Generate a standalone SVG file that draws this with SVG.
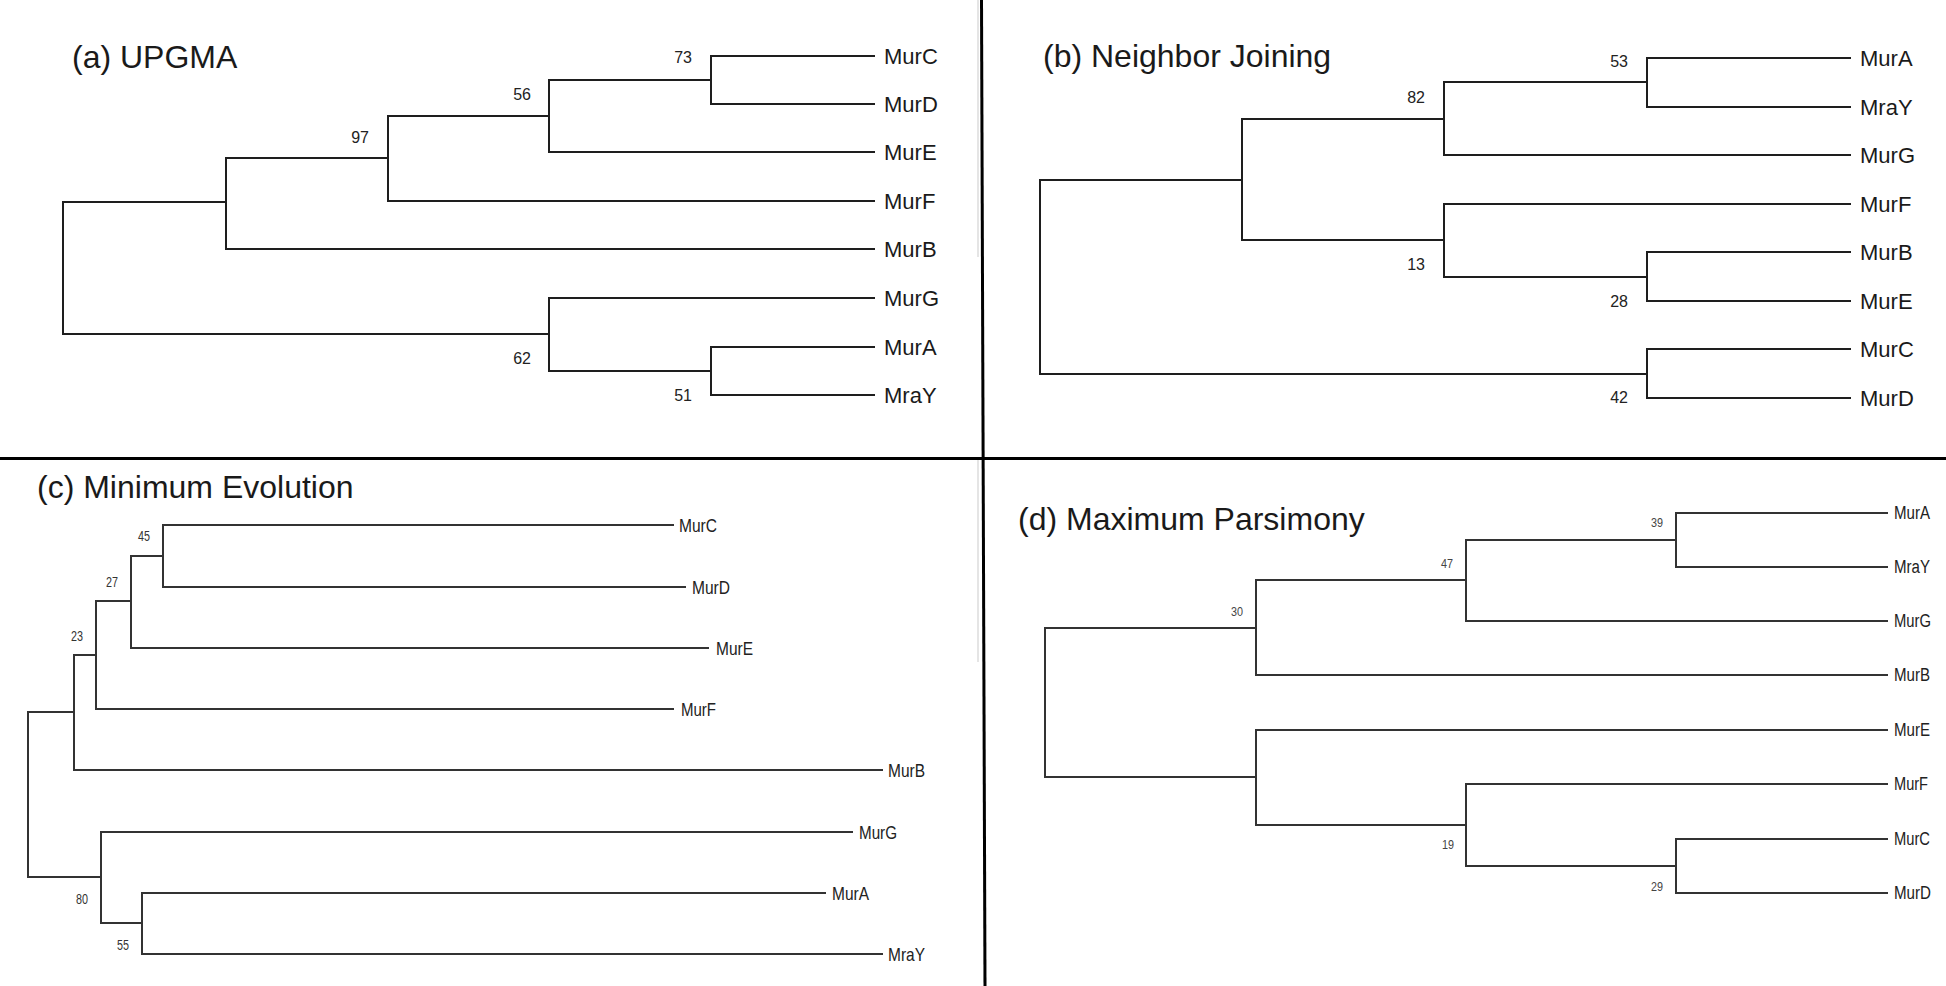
<svg xmlns="http://www.w3.org/2000/svg" width="1946" height="986" viewBox="0 0 1946 986">
<style>
.br{fill:none;stroke:#1e1e1e;stroke-width:2;stroke-linecap:square}
.brc{fill:none;stroke:#333;stroke-width:2;stroke-linecap:square}
.div{stroke:#000;stroke-width:3}
.faint{stroke:#ddd;stroke-width:1.5}
.t{font-family:"Liberation Sans",Arial,sans-serif;font-size:32px;fill:#1a1a1a}
.lf{font-family:"Liberation Sans",Arial,sans-serif;font-size:22px;fill:#1a1a1a}
.bs{font-family:"Liberation Sans",Arial,sans-serif;font-size:16px;fill:#222;text-anchor:end}
.lfc{font-family:"Liberation Sans",Arial,sans-serif;font-size:19px;fill:#222}
.bsc{font-family:"Liberation Sans",Arial,sans-serif;font-size:14px;fill:#333}
.lfd{font-family:"Liberation Sans",Arial,sans-serif;font-size:18px;fill:#222}
.bsd{font-family:"Liberation Sans",Arial,sans-serif;font-size:12px;fill:#444}
</style>
<rect width="1946" height="986" fill="#fff"/>
<g id="dividers">
<line class="faint" x1="978" y1="0" x2="978" y2="257"/>
<line class="faint" x1="978" y1="460" x2="978" y2="662"/>
<line class="div" x1="0" y1="458.5" x2="1946" y2="458.5"/>
<line class="div" x1="981.5" y1="0" x2="985" y2="986"/>
</g>

<!-- Panel a -->
<g id="panel-a">
<text id="title-a" class="t" x="72" y="68">(a) UPGMA</text>
<g id="connectors-a">
<path class="br" d="M63,202V334 M63,202H226 M63,334H549 M226,158V249 M226,158H388 M226,249H874 M388,116V201 M388,116H549 M388,201H874 M549,80V152 M549,80H711 M549,152H874 M711,56V104 M711,56H874 M711,104H874 M549,298V371 M549,298H874 M549,371H711 M711,347V395 M711,347H874 M711,395H874"/>
</g>
<g id="a-MurC"><text class="lf" x="884" y="64">MurC</text></g>
<g id="a-MurD"><text class="lf" x="884" y="112">MurD</text></g>
<g id="a-MurE"><text class="lf" x="884" y="160">MurE</text></g>
<g id="a-MurF"><text class="lf" x="884" y="209">MurF</text></g>
<g id="a-MurB"><text class="lf" x="884" y="257">MurB</text></g>
<g id="a-MurG"><text class="lf" x="884" y="306">MurG</text></g>
<g id="a-MurA"><text class="lf" x="884" y="355">MurA</text></g>
<g id="a-MraY"><text class="lf" x="884" y="403">MraY</text></g>
<g id="a-n73"><text class="bs" x="692" y="63">73</text></g>
<g id="a-n56"><text class="bs" x="531" y="100">56</text></g>
<g id="a-n97"><text class="bs" x="369" y="143">97</text></g>
<g id="a-n62"><text class="bs" x="531" y="364">62</text></g>
<g id="a-n51"><text class="bs" x="692" y="401">51</text></g>
</g>

<!-- Panel b -->
<g id="panel-b">
<text id="title-b" class="t" x="1043" y="67">(b) Neighbor Joining</text>
<g id="connectors-b">
<path class="br" d="M1040,180V374 M1040,180H1242 M1040,374H1647 M1242,119V240 M1242,119H1444 M1242,240H1444 M1444,82V155 M1444,82H1647 M1444,155H1850 M1647,58V107 M1647,58H1850 M1647,107H1850 M1444,204V277 M1444,204H1850 M1444,277H1647 M1647,252V301 M1647,252H1850 M1647,301H1850 M1647,349V398 M1647,349H1850 M1647,398H1850"/>
</g>
<g id="b-MurA"><text class="lf" x="1860" y="66">MurA</text></g>
<g id="b-MraY"><text class="lf" x="1860" y="115">MraY</text></g>
<g id="b-MurG"><text class="lf" x="1860" y="163">MurG</text></g>
<g id="b-MurF"><text class="lf" x="1860" y="212">MurF</text></g>
<g id="b-MurB"><text class="lf" x="1860" y="260">MurB</text></g>
<g id="b-MurE"><text class="lf" x="1860" y="309">MurE</text></g>
<g id="b-MurC"><text class="lf" x="1860" y="357">MurC</text></g>
<g id="b-MurD"><text class="lf" x="1860" y="406">MurD</text></g>
<g id="b-n53"><text class="bs" x="1628" y="67">53</text></g>
<g id="b-n82"><text class="bs" x="1425" y="103">82</text></g>
<g id="b-n13"><text class="bs" x="1425" y="270">13</text></g>
<g id="b-n28"><text class="bs" x="1628" y="307">28</text></g>
<g id="b-n42"><text class="bs" x="1628" y="403">42</text></g>
</g>

<!-- Panel c -->
<g id="panel-c">
<text id="title-c" class="t" x="37" y="498">(c) Minimum Evolution</text>
<g id="connectors-c">
<path class="brc" d="M28,712V877 M28,712H74 M28,877H101 M74,655V770 M74,655H96 M74,770H882 M96,601V709 M96,601H131 M96,709H673 M131,556V648 M131,556H163 M131,648H708 M163,525V587 M163,525H673 M163,587H685 M101,832V923 M101,832H852 M101,923H142 M142,893V954 M142,893H825 M142,954H882"/>
</g>
<g id="c-MurC"><text class="lfc" x="679" y="532" textLength="38" lengthAdjust="spacingAndGlyphs">MurC</text></g>
<g id="c-MurD"><text class="lfc" x="692" y="594" textLength="38" lengthAdjust="spacingAndGlyphs">MurD</text></g>
<g id="c-MurE"><text class="lfc" x="716" y="655" textLength="37" lengthAdjust="spacingAndGlyphs">MurE</text></g>
<g id="c-MurF"><text class="lfc" x="681" y="716" textLength="35" lengthAdjust="spacingAndGlyphs">MurF</text></g>
<g id="c-MurB"><text class="lfc" x="888" y="777" textLength="37" lengthAdjust="spacingAndGlyphs">MurB</text></g>
<g id="c-MurG"><text class="lfc" x="859" y="839" textLength="38" lengthAdjust="spacingAndGlyphs">MurG</text></g>
<g id="c-MurA"><text class="lfc" x="832" y="900" textLength="37" lengthAdjust="spacingAndGlyphs">MurA</text></g>
<g id="c-MraY"><text class="lfc" x="888" y="961" textLength="37" lengthAdjust="spacingAndGlyphs">MraY</text></g>
<g id="c-n45"><text class="bsc" x="138" y="541" textLength="12" lengthAdjust="spacingAndGlyphs">45</text></g>
<g id="c-n27"><text class="bsc" x="106" y="587" textLength="12" lengthAdjust="spacingAndGlyphs">27</text></g>
<g id="c-n23"><text class="bsc" x="71" y="641" textLength="12" lengthAdjust="spacingAndGlyphs">23</text></g>
<g id="c-n80"><text class="bsc" x="76" y="904" textLength="12" lengthAdjust="spacingAndGlyphs">80</text></g>
<g id="c-n55"><text class="bsc" x="117" y="950" textLength="12" lengthAdjust="spacingAndGlyphs">55</text></g>
</g>

<!-- Panel d -->
<g id="panel-d">
<text id="title-d" class="t" x="1018" y="530">(d) Maximum Parsimony</text>
<g id="connectors-d">
<path class="brc" d="M1045,628V777 M1045,628H1256 M1045,777H1256 M1256,580V675 M1256,580H1466 M1256,675H1887 M1466,540V621 M1466,540H1676 M1466,621H1887 M1676,513V567 M1676,513H1887 M1676,567H1887 M1256,730V825 M1256,730H1887 M1256,825H1466 M1466,784V866 M1466,784H1887 M1466,866H1676 M1676,839V893 M1676,839H1887 M1676,893H1887"/>
</g>
<g id="d-MurA"><text class="lfd" x="1894" y="519" textLength="36" lengthAdjust="spacingAndGlyphs">MurA</text></g>
<g id="d-MraY"><text class="lfd" x="1894" y="573" textLength="36" lengthAdjust="spacingAndGlyphs">MraY</text></g>
<g id="d-MurG"><text class="lfd" x="1894" y="627" textLength="37" lengthAdjust="spacingAndGlyphs">MurG</text></g>
<g id="d-MurB"><text class="lfd" x="1894" y="681" textLength="36" lengthAdjust="spacingAndGlyphs">MurB</text></g>
<g id="d-MurE"><text class="lfd" x="1894" y="736" textLength="36" lengthAdjust="spacingAndGlyphs">MurE</text></g>
<g id="d-MurF"><text class="lfd" x="1894" y="790" textLength="34" lengthAdjust="spacingAndGlyphs">MurF</text></g>
<g id="d-MurC"><text class="lfd" x="1894" y="845" textLength="36" lengthAdjust="spacingAndGlyphs">MurC</text></g>
<g id="d-MurD"><text class="lfd" x="1894" y="899" textLength="37" lengthAdjust="spacingAndGlyphs">MurD</text></g>
<g id="d-n39"><text class="bsd" x="1651" y="527" textLength="12" lengthAdjust="spacingAndGlyphs">39</text></g>
<g id="d-n47"><text class="bsd" x="1441" y="568" textLength="12" lengthAdjust="spacingAndGlyphs">47</text></g>
<g id="d-n30"><text class="bsd" x="1231" y="616" textLength="12" lengthAdjust="spacingAndGlyphs">30</text></g>
<g id="d-n19"><text class="bsd" x="1442" y="849" textLength="12" lengthAdjust="spacingAndGlyphs">19</text></g>
<g id="d-n29"><text class="bsd" x="1651" y="891" textLength="12" lengthAdjust="spacingAndGlyphs">29</text></g>
</g>
</svg>
